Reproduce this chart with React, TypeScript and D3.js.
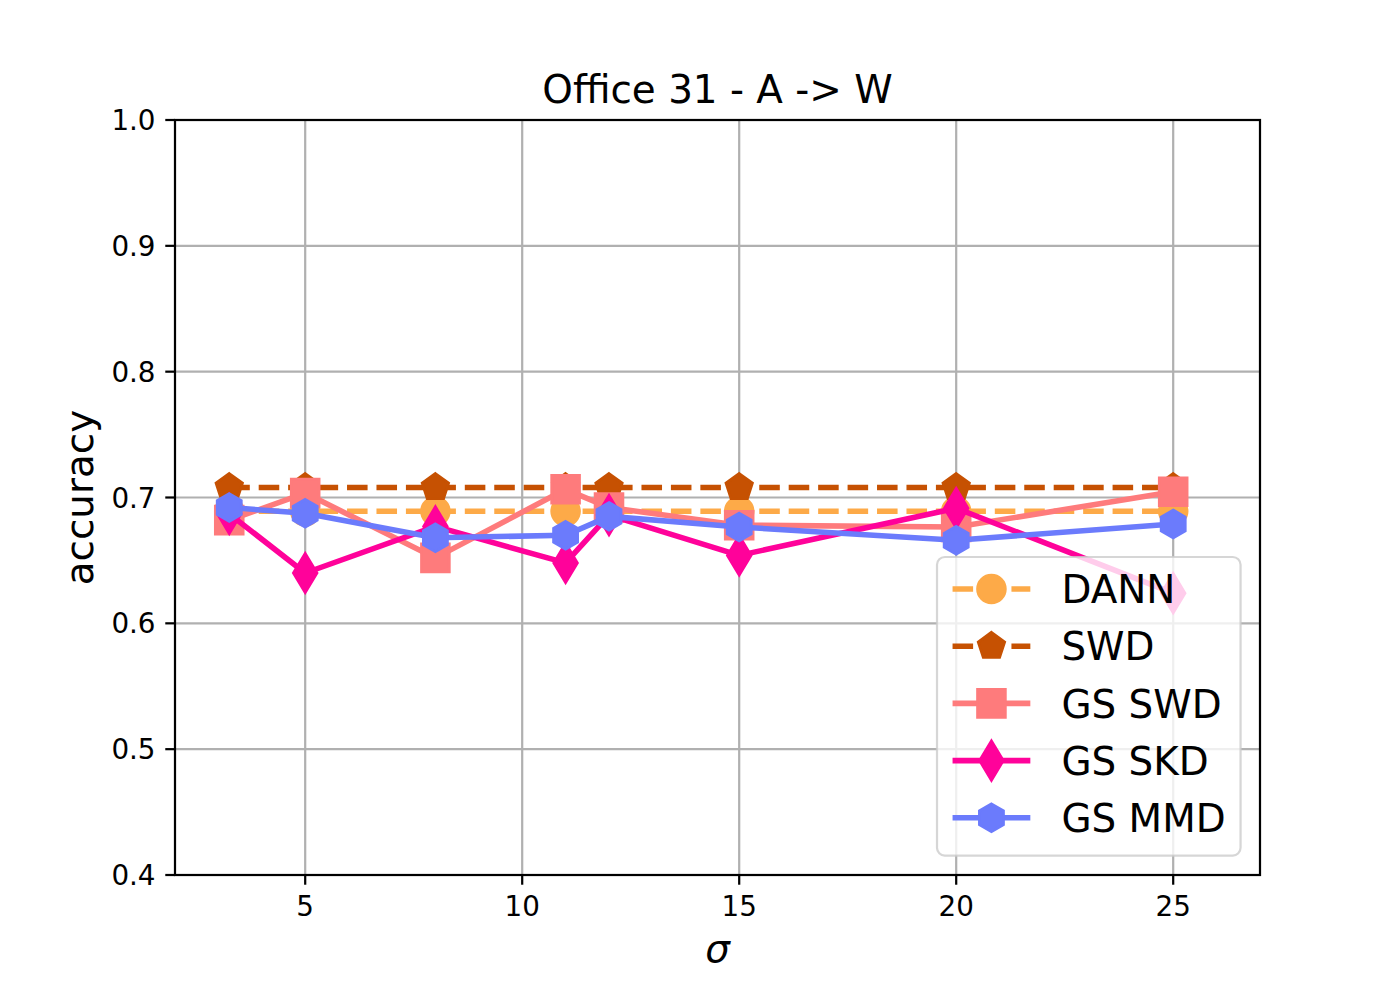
import React from "react";
import * as d3 from "d3";

// ---- data ----
const sigmas: number[] = [3.25, 5, 8, 11, 12, 15, 20, 25];
const dann: number[] = [0.689, 0.689, 0.689, 0.689, 0.689, 0.689, 0.689, 0.689];
const swd: number[] = [0.708, 0.708, 0.708, 0.708, 0.708, 0.708, 0.708, 0.708];
const gsSwd: number[] = [0.682, 0.7035, 0.652, 0.7065, 0.692, 0.678, 0.6765, 0.7045];
const gsSkd: number[] = [0.687, 0.64, 0.677, 0.648, 0.686, 0.654, 0.6915, 0.624];
const gsMmd: number[] = [0.692, 0.6875, 0.668, 0.67, 0.685, 0.6765, 0.666, 0.679];

const seriesNames: string[] = ["DANN", "SWD", "GS SWD", "GS SKD", "GS MMD"];
const xTicks: number[] = [5, 10, 15, 20, 25];
const yTicks: number[] = [0.4, 0.5, 0.6, 0.7, 0.8, 0.9, 1.0];

type Marker = "circle" | "pentagon" | "square" | "thinDiamond" | "hexagon";
interface Series {
  name: string;
  values: number[];
  color: string;
  dashed: boolean;
  marker: Marker;
}

const series: Series[] = [
  { name: seriesNames[0], values: dann, color: "#fdaa48", dashed: true, marker: "circle" },
  { name: seriesNames[1], values: swd, color: "#c65102", dashed: true, marker: "pentagon" },
  { name: seriesNames[2], values: gsSwd, color: "#fe7b7c", dashed: false, marker: "square" },
  { name: seriesNames[3], values: gsSkd, color: "#ff029a", dashed: false, marker: "thinDiamond" },
  { name: seriesNames[4], values: gsMmd, color: "#6b7bfc", dashed: false, marker: "hexagon" },
];

// ---- layout (matplotlib-like at 200 dpi) ----
const W = 1400;
const H = 1000;
const PT = 200 / 72;
const left = 175;
const right = 1260;
const top = 120;
const bottom = 875;
const MS = 10 * PT; // markersize
const LW = 2 * PT;
const TICK_FS = 10 * PT;
const LABEL_FS = 14 * PT;
const FONT = "'DejaVu Sans', Verdana, sans-serif";

function markerPath(m: Marker, cx: number, cy: number): string {
  const r = MS / 2;
  const poly = (pts: [number, number][]) =>
    "M" + pts.map((p) => `${(cx + p[0]).toFixed(2)},${(cy + p[1]).toFixed(2)}`).join("L") + "Z";
  switch (m) {
    case "circle": {
      return `M${cx - r},${cy}A${r},${r} 0 1,0 ${cx + r},${cy}A${r},${r} 0 1,0 ${cx - r},${cy}Z`;
    }
    case "square":
      return poly([
        [-r, -r],
        [r, -r],
        [r, r],
        [-r, r],
      ]);
    case "pentagon": {
      const pts: [number, number][] = [];
      for (let i = 0; i < 5; i++) {
        const a = -Math.PI / 2 + (i * 2 * Math.PI) / 5;
        pts.push([r * Math.cos(a), r * Math.sin(a)]);
      }
      return poly(pts);
    }
    case "hexagon": {
      const pts: [number, number][] = [];
      for (let i = 0; i < 6; i++) {
        const a = -Math.PI / 2 + (i * 2 * Math.PI) / 6;
        pts.push([r * Math.cos(a), r * Math.sin(a)]);
      }
      return poly(pts);
    }
    case "thinDiamond": {
      const h = MS * Math.SQRT1_2;
      const w = 0.6 * h;
      return poly([
        [0, -h],
        [w, 0],
        [0, h],
        [-w, 0],
      ]);
    }
  }
}

export default function App() {
  const x = d3.scaleLinear().domain([2, 27]).range([left, right]);
  const y = d3.scaleLinear().domain([0.4, 1.0]).range([bottom, top]);
  const line = d3
    .line<[number, number]>()
    .x((d) => x(d[0]))
    .y((d) => y(d[1]));

  const dash = `${3.7 * LW} ${1.6 * LW}`;
  const tickLen = 3.5 * PT;
  const tickPad = 3.5 * PT;

  // legend geometry
  const lgFs = LABEL_FS;
  const lgRight = right - 0.5 * lgFs;
  const lgBottom = bottom - 0.5 * lgFs;
  const lgLeft = 937;
  const lgTop = 557;
  const rowGap = 57.2;
  const firstRow = 589;
  const handleX0 = lgLeft + 0.4 * lgFs;
  const handleX1 = handleX0 + 2 * lgFs;
  const handleC = (handleX0 + handleX1) / 2;
  const textX = handleX1 + 0.8 * lgFs;

  return (
    <svg
      width={W}
      height={H}
      viewBox={`0 0 ${W} ${H}`}
      style={{ position: "absolute", left: 0, top: 0, background: "#fff" }}
      fontFamily={FONT}
    >
      <rect x={0} y={0} width={W} height={H} fill="#fff" />
      {/* grid */}
      <g stroke="#b0b0b0" strokeWidth={0.8 * PT}>
        {xTicks.map((t) => (
          <line key={"gx" + t} x1={x(t)} x2={x(t)} y1={top} y2={bottom} />
        ))}
        {yTicks.map((t) => (
          <line key={"gy" + t} x1={left} x2={right} y1={y(t)} y2={y(t)} />
        ))}
      </g>

      {/* series */}
      {series.map((s) => {
        const pts: [number, number][] = sigmas.map((sx, i) => [sx, s.values[i]]);
        return (
          <g key={s.name}>
            <path
              d={line(pts) || ""}
              fill="none"
              stroke={s.color}
              strokeWidth={LW}
              strokeDasharray={s.dashed ? dash : undefined}
              strokeLinejoin="round"
            />
            {pts.map((p, i) => (
              <path
                key={i}
                d={markerPath(s.marker, x(p[0]), y(p[1]))}
                fill={s.color}
                stroke={s.color}
                strokeWidth={PT}
                strokeLinejoin="miter"
              />
            ))}
          </g>
        );
      })}

      {/* spines */}
      <rect
        x={left}
        y={top}
        width={right - left}
        height={bottom - top}
        fill="none"
        stroke="#000"
        strokeWidth={0.8 * PT}
      />

      {/* x ticks */}
      {xTicks.map((t) => (
        <g key={"xt" + t}>
          <line x1={x(t)} x2={x(t)} y1={bottom} y2={bottom + tickLen} stroke="#000" strokeWidth={0.8 * PT} />
          <text
            x={x(t)}
            y={bottom + tickLen + tickPad + 0.76 * TICK_FS}
            textAnchor="middle"
            fontSize={TICK_FS}
            fill="#000"
          >
            {String(t)}
          </text>
        </g>
      ))}
      {/* y ticks */}
      {yTicks.map((t) => (
        <g key={"yt" + t}>
          <line x1={left - tickLen} x2={left} y1={y(t)} y2={y(t)} stroke="#000" strokeWidth={0.8 * PT} />
          <text
            x={left - tickLen - tickPad}
            y={y(t) + 0.364 * TICK_FS}
            textAnchor="end"
            fontSize={TICK_FS}
            fill="#000"
          >
            {t.toFixed(1)}
          </text>
        </g>
      ))}

      {/* title */}
      <text x={(left + right) / 2} y={top - 6 * PT} textAnchor="middle" fontSize={LABEL_FS} fill="#000">
        Office 31 - A -&gt; W
      </text>
      {/* x label */}
      <text
        x={(left + right) / 2}
        y={962}
        textAnchor="middle"
        fontSize={LABEL_FS}
        fontStyle="italic"
        fill="#000"
      >
        σ
      </text>
      {/* y label */}
      <text
        transform={`translate(93, ${(top + bottom) / 2}) rotate(-90)`}
        textAnchor="middle"
        fontSize={LABEL_FS}
        fill="#000"
      >
        accuracy
      </text>

      {/* legend */}
      <g>
        <rect
          x={lgLeft}
          y={lgTop}
          width={lgRight - lgLeft}
          height={lgBottom - lgTop}
          rx={0.2 * lgFs}
          ry={0.2 * lgFs}
          fill="#fff"
          fillOpacity={0.8}
          stroke="#cccccc"
          strokeOpacity={0.8}
          strokeWidth={0.8 * PT}
        />
        {series.map((s, i) => {
          const cy = firstRow + i * rowGap;
          return (
            <g key={"lg" + s.name}>
              <line
                x1={handleX0}
                x2={handleX1}
                y1={cy}
                y2={cy}
                stroke={s.color}
                strokeWidth={LW}
                strokeDasharray={s.dashed ? dash : undefined}
              />
              <path d={markerPath(s.marker, handleC, cy)} fill={s.color} stroke={s.color} strokeWidth={PT} />
              <text x={textX} y={cy + 0.364 * lgFs} fontSize={lgFs} fill="#000">
                {s.name}
              </text>
            </g>
          );
        })}
      </g>
    </svg>
  );
}
